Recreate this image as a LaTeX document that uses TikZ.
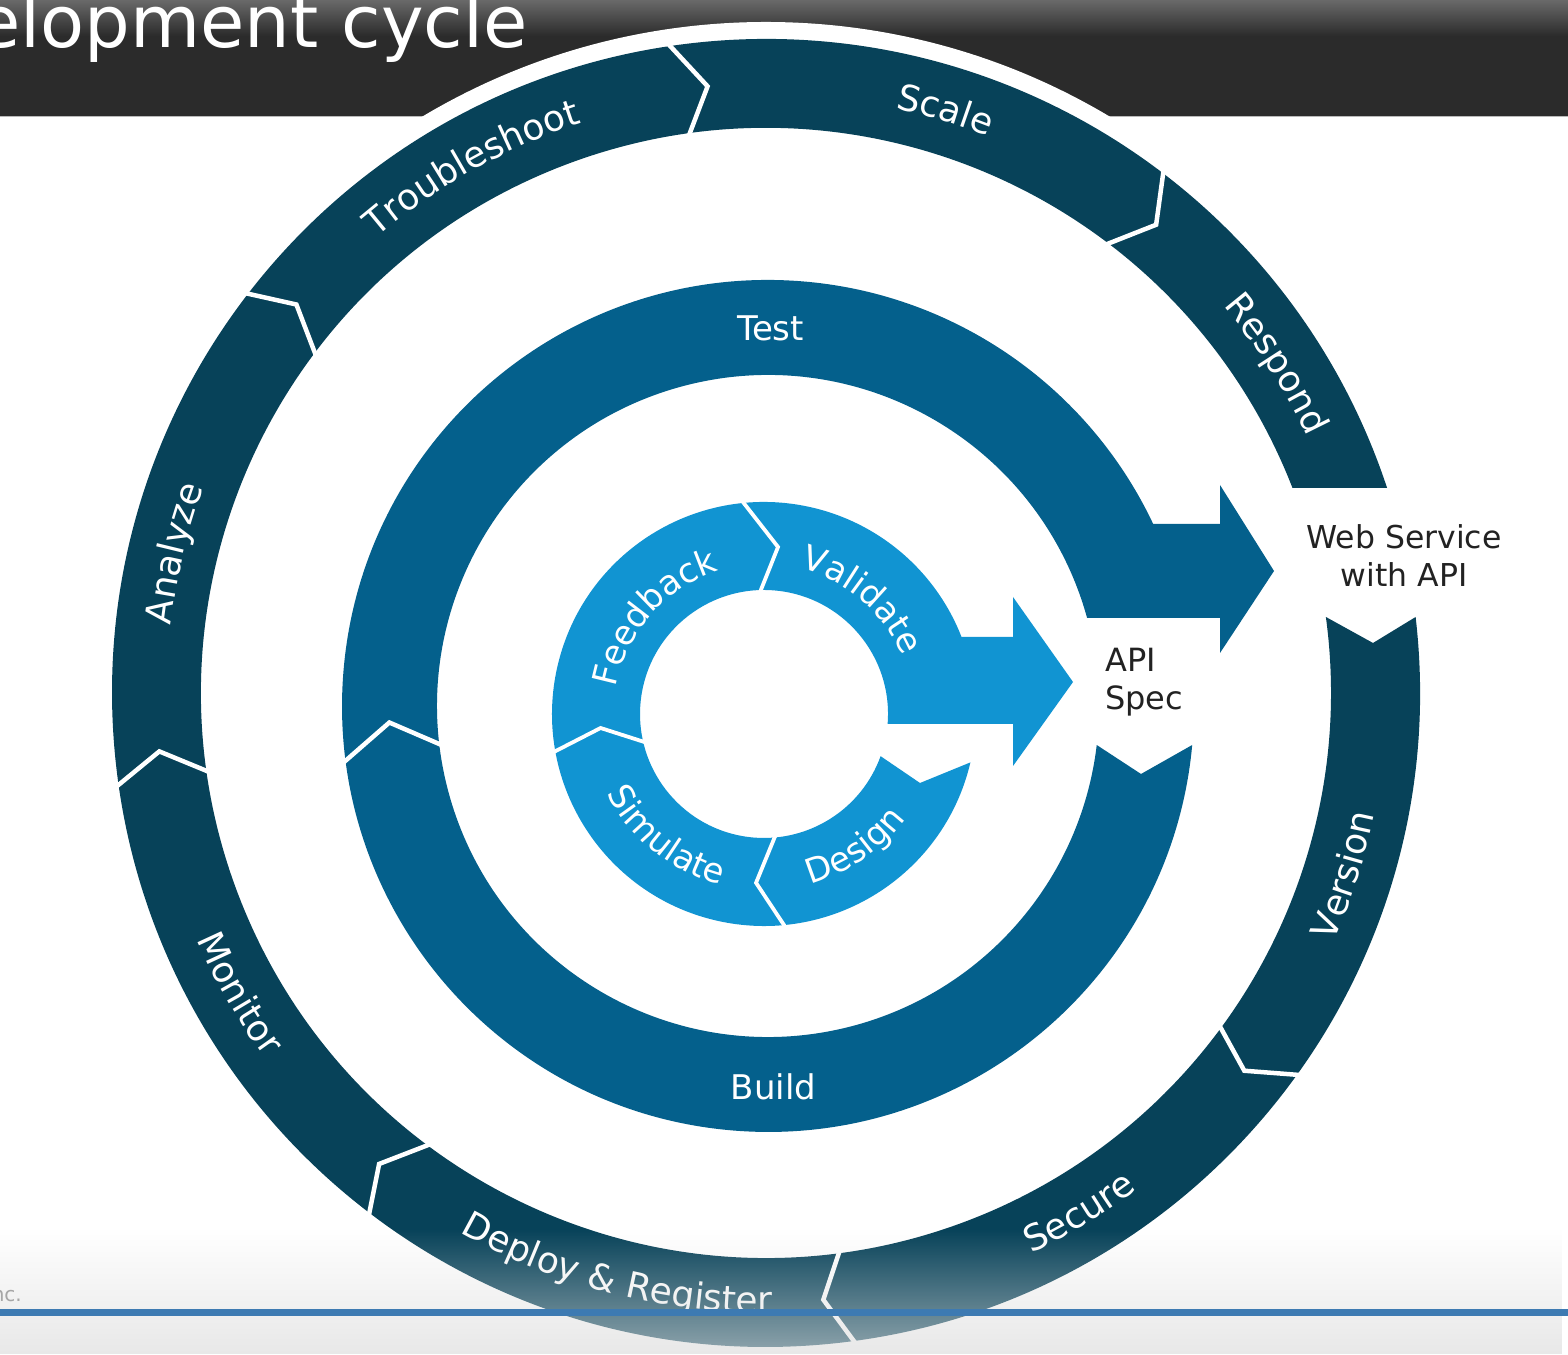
\documentclass[tikz,border=0pt]{standalone}
\usepackage{fontspec}
\setmainfont{DejaVu Sans}
\usetikzlibrary{calc,decorations.text,fadings}
\definecolor{outerc}{HTML}{074259}
\definecolor{midc}{HTML}{04608C}
\definecolor{innc}{HTML}{1194D2}
\definecolor{bannerc}{HTML}{2B2B2B}
\definecolor{bannertop}{HTML}{6A6A6A}
\definecolor{darktext}{HTML}{222222}
\definecolor{footgray}{HTML}{DCDCDC}
\definecolor{blueline}{HTML}{3D7AB2}
\newcommand\olab{\fontsize{36}{43}\selectfont\color{white}}
\newcommand\ilab{\fontsize{34}{40}\selectfont\color{white}}
\newcommand\ringlabel[6]{\path[decorate,decoration={text along path,text align=center,text={|#5|#6}}] ($(#1)+(#3:#2)$) arc[start angle=#3,end angle=#4,radius=#2];}
\tikzfading[name=footfade, top color=transparent!100, bottom color=transparent!35]
\tikzset{
  ringsep/.style={draw=white, line width=4.5pt, line join=miter},
  innersep/.style={draw=white, line width=3.8pt, line join=miter},
  midlab/.style={font=\fontsize{34}{40}\selectfont, text=white, inner sep=0pt, anchor=base},
  blacklab/.style={text=darktext, inner sep=0pt}
}
\begin{document}
\begin{tikzpicture}[x=1pt,y=1pt]
\clip (0,0) rectangle (1568,1354);
\fill[white] (0,0) rectangle (1568,1354);
% banner
\fill[bannerc] (0,1238) rectangle (1568,1354);
\shade[top color=bannertop, bottom color=bannerc] (0,1318) rectangle (1568,1354.5);
\fill[gray!55] (0,1236.8) rectangle (1568,1238.3);
\node[anchor=base east, text=white, font=\fontsize{72}{80}\selectfont, inner sep=0pt] (title) at (528,1306) {elopment cycle};
% centres
\coordinate (C1) at (766,661);
\coordinate (C2) at (768,648);
\coordinate (C3) at (764,640);
% halo
\fill[white] (C1) circle[radius=671];
% outer ring
\fill[outerc] (1415.6,737) arc[start angle=6.67, end angle=-341.73, radius=654] -- (1292.5,866) arc[start angle=21.27, end angle=367.73, radius=565] -- (1373,711) -- cycle;
% middle ring with arrow
\fill[midc] (1192.2,609) arc[start angle=-5.26, end angle=-334.71, radius=426] -- (1220,830) -- (1220,869) -- (1274,783) -- (1220,701) -- (1220,736) -- (1087.1,736) arc[start angle=15.42, end angle=353.23, radius=331] -- (1141,580) -- cycle;
% inner ring with arrow
\fill[innc] (970.4,591.6) arc[start angle=-13.2, end angle=-338.7, radius=212] -- (1013,717) -- (1013,757) -- (1073,672) -- (1013,588) -- (1013,630) -- (887.6,630) arc[start angle=-4.63, end angle=340.1, radius=124] -- (920,571) -- cycle;
% outer separators
\draw[ringsep] ($(C1)+(98.9:662)$) -- ($(C1)+(95.5:609.5)$) -- ($(C1)+(98.2:557)$);
\draw[ringsep] ($(C1)+(53.0:662)$) -- ($(C1)+(50.2:609.5)$) -- ($(C1)+(53.2:557)$);
\draw[ringsep] ($(C1)+(-35.3:662)$) -- ($(C1)+(-38.3:609.5)$) -- ($(C1)+(-36.0:557)$);
\draw[ringsep] ($(C1)+(-81.9:662)$) -- ($(C1)+(-84.6:609.5)$) -- ($(C1)+(-82.2:557)$);
\draw[ringsep] ($(C1)+(-127.0:662)$) -- ($(C1)+(-129.4:609.5)$) -- ($(C1)+(-126.3:557)$);
\draw[ringsep] ($(C1)+(-171.5:662)$) -- ($(C1)+(-174.5:609.5)$) -- ($(C1)+(-171.6:557)$);
\draw[ringsep] ($(C1)+(142.7:662)$) -- ($(C1)+(140.4:609.5)$) -- ($(C1)+(143.5:557)$);
% middle separator
\draw[ringsep] ($(C2)+(188.0:433)$) -- ($(C2)+(182.5:379)$) -- ($(C2)+(187.2:325)$);
% inner separators
\draw[innersep] ($(C3)+(96.5:218)$) -- ($(C3)+(85.2:167.6)$) -- ($(C3)+(92.7:118)$);
\draw[innersep] ($(C3)+(190.6:218)$) -- ($(C3)+(184.9:164)$) -- ($(C3)+(194.6:118)$);
\draw[innersep] ($(C3)+(-83.75:218)$) -- ($(C3)+(-92.7:169)$) -- ($(C3)+(-83.6:118)$);
% outer labels
\ringlabel{C1}{599}{149.2}{89.2}{\olab}{Troubleshoot}
\ringlabel{C1}{599}{102.9}{42.9}{\olab}{Scale}
\ringlabel{C1}{599}{62.8}{2.8}{\olab}{Respond}
\ringlabel{C1}{599}{196.7}{136.7}{\olab}{Analyze}
\ringlabel{C1}{620}{-180.3}{-120.3}{\olab}{Monitor}
\ringlabel{C1}{620}{-134.5}{-74.5}{\olab}{Deploy {\&} Register}
\ringlabel{C1}{620}{-88.9}{-28.9}{\olab}{Secure}
\ringlabel{C1}{620}{-47.5}{12.5}{\olab}{Version}
% inner labels
\ringlabel{C3}{150}{183.7}{93.7}{\ilab}{Feedback}
\ringlabel{C3}{150}{94.4}{4.4}{\ilab}{Validate}
\ringlabel{C3}{176}{-173.7}{-83.7}{\ilab}{Simulate}
\ringlabel{C3}{176}{-100.5}{-10.5}{\ilab}{Design}
% middle labels
\node[midlab] (test) at (770.5,1013) {Test};
\node[midlab] (build) at (773.5,254) {Build};
% black labels
\node[blacklab, anchor=base west, align=left, font=\fontsize{32}{38}\selectfont] (api) at (1105,644) {API\\Spec};
\node[blacklab, anchor=base, align=center, font=\fontsize{31.5}{38}\selectfont] (ws) at (1404,767) {Web Service\\with API};
% footer
\fill[footgray, path fading=footfade, fit fading=true] (0,0) rectangle (1568,125);
\fill[blueline] (0,38) rectangle (1568,45);
\node[anchor=base east, text=gray!70, font=\fontsize{20}{24}\selectfont, inner sep=0pt] (inc) at (22,52) {nc.};
\end{tikzpicture}
\end{document}
